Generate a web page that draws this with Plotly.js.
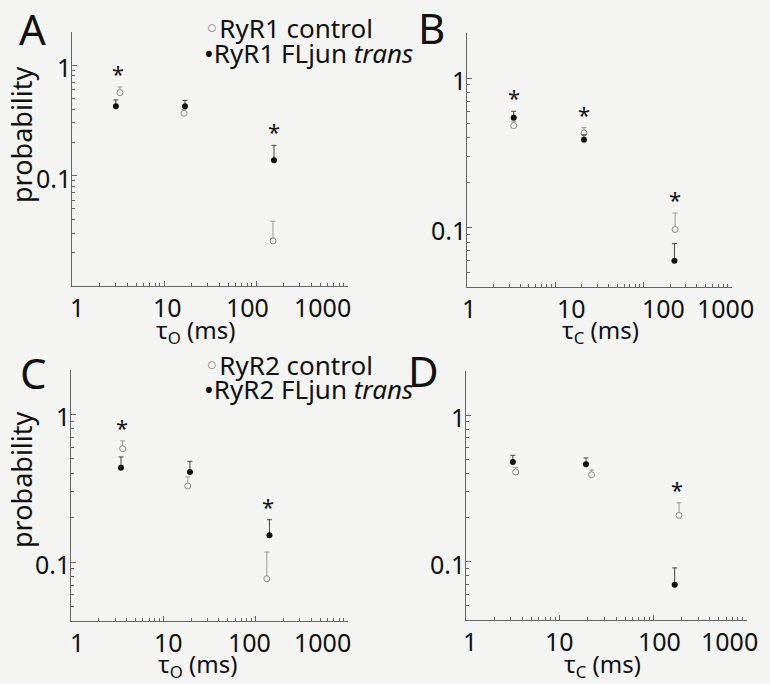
<!DOCTYPE html>
<html><head><meta charset="utf-8">
<script src="https://cdn.plot.ly/plotly-3.0.1.min.js"></script>
<style>html,body{margin:0;padding:0;background:#f4f4f2}#chart{width:770px;height:684px}</style>
</head><body><div id="chart"></div>
<script>
// ---------- data ----------
const xTickVals = [1, 10, 100, 1000];
const xTickText = ['1', '10', '100', '1000'];
const yTickVals = [0.1, 1];
const yTickText = ['0.1', '1'];

// A: RyR1, open-time constants
const aCtrlX = [3.32, 16.5, 153];
const aCtrlY = [0.565, 0.367, 0.0256];
const aCtrlErr = [0.07, 0.03, 0.013];
const aTransX = [3.0, 16.9, 157];
const aTransY = [0.425, 0.425, 0.138];
const aTransErr = [0.06, 0.055, 0.05];
const aSig = [true, false, true];

// B: RyR1, closed-time constants
const bCtrlX = [3.38, 21.1, 227];
const bCtrlY = [0.48, 0.429, 0.097];
const bCtrlErr = [0.03, 0.037, 0.028];
const bTransX = [3.38, 21.1, 223];
const bTransY = [0.543, 0.387, 0.060];
const bTransErr = [0.056, 0.03, 0.018];
const bSig = [true, true, true];

// C: RyR2, open-time constants
const cCtrlX = [3.63, 18.4, 132];
const cCtrlY = [0.587, 0.328, 0.0773];
const cCtrlErr = [0.075, 0.05, 0.04];
const cTransX = [3.48, 19.4, 141];
const cTransY = [0.436, 0.408, 0.152];
const cTransErr = [0.08, 0.074, 0.042];
const cSig = [true, false, true];

// D: RyR2, closed-time constants
const dCtrlX = [3.39, 21.9, 188];
const dCtrlY = [0.409, 0.392, 0.207];
const dCtrlErr = [0.03, 0.03, 0.045];
const dTransX = [3.16, 19.1, 169];
const dTransY = [0.479, 0.462, 0.0697];
const dTransErr = [0.053, 0.048, 0.021];
const dSig = [false, false, true];

const legendA = ['RyR1 control', 'RyR1 FLjun <i>trans</i>'];
const legendC = ['RyR2 control', 'RyR2 FLjun <i>trans</i>'];
const panelLetters = ['A', 'B', 'C', 'D'];
const xTitles = ['τ<sub>O</sub> (ms)', 'τ<sub>C</sub> (ms)', 'τ<sub>O</sub> (ms)', 'τ<sub>C</sub> (ms)'];
const yTitle = 'probability';

// ---------- styling ----------
const FONT = 'Noto Sans, Open Sans, DejaVu Sans, sans-serif';
const BG = '#f4f4f2';
const AX = '#666';
const CTRL = '#8a8a8a';
const TRANS = '#111';
// horizontal nudges of the x tick labels (px), as printed in the figure
const xLabelShift = [[5, 3, -9, -26], [2, 16, 20, -7], [6, 5, -6, -26], [4, 0, 6, -18]];
// panel frames in pixels: [left, right, top, bottom]
const frames = [[72, 348, 32, 286], [467, 732, 33, 287], [71, 348, 370, 621], [466, 747, 371, 620]];
const yLow = [0.01, 0.04, 0.04, 0.04];

function minorList(decades) {
  const out = [];
  decades.forEach(d => { for (let k = 2; k <= 9; k++) out.push(+(k * d).toPrecision(3)); });
  return out;
}

function xAxis(f, anchor) {
  return {
    type: 'log', domain: [f[0] / 770, f[1] / 770], anchor: anchor, range: [0, 3],
    tickmode: 'array', tickvals: xTickVals, ticktext: xTickText, showticklabels: false,
    ticks: 'inside', ticklen: 5, tickwidth: 1, tickcolor: AX,
    showline: true, linecolor: AX, linewidth: 1, showgrid: false, zeroline: false,
    minor: {tickmode: 'array', tickvals: minorList([1, 10, 100]), ticks: 'inside', ticklen: 3, tickcolor: AX, showgrid: false}
  };
}
function yAxis(f, anchor, lo) {
  const mins = minorList([0.01, 0.1]).filter(v => v >= lo - 1e-9);
  mins.push(2);
  return {
    type: 'log', domain: [1 - f[3] / 684, 1 - f[2] / 684], anchor: anchor, range: [Math.log10(lo), Math.log10(2)],
    tickmode: 'array', tickvals: yTickVals, ticktext: yTickText, showticklabels: false,
    ticks: 'inside', ticklen: 5, tickwidth: 1, tickcolor: AX,
    showline: true, linecolor: AX, linewidth: 1, showgrid: false, zeroline: false,
    minor: {tickmode: 'array', tickvals: mins, ticks: 'inside', ticklen: 3, tickcolor: AX, showgrid: false}
  };
}

function pair(xs, ys, errs, isCtrl, xa, ya, name) {
  return {
    type: 'scatter', mode: 'markers', x: xs, y: ys, xaxis: xa, yaxis: ya, name: name,
    showlegend: false, cliponaxis: false,
    marker: isCtrl ? {symbol: 'circle', size: 6, color: BG, line: {color: CTRL, width: 1}}
                   : {symbol: 'circle', size: 6, color: TRANS, line: {color: TRANS, width: 0}},
    error_y: {type: 'data', symmetric: false, array: errs, arrayminus: errs.map(() => 0),
              color: isCtrl ? '#999' : '#444', thickness: 1, width: 2.5}
  };
}

const panels = [
  {cx: aCtrlX, cy: aCtrlY, ce: aCtrlErr, tx: aTransX, ty: aTransY, te: aTransErr, sig: aSig, xa: 'x', ya: 'y'},
  {cx: bCtrlX, cy: bCtrlY, ce: bCtrlErr, tx: bTransX, ty: bTransY, te: bTransErr, sig: bSig, xa: 'x2', ya: 'y2'},
  {cx: cCtrlX, cy: cCtrlY, ce: cCtrlErr, tx: cTransX, ty: cTransY, te: cTransErr, sig: cSig, xa: 'x3', ya: 'y3'},
  {cx: dCtrlX, cy: dCtrlY, ce: dCtrlErr, tx: dTransX, ty: dTransY, te: dTransErr, sig: dSig, xa: 'x4', ya: 'y4'}
];

const traces = [];
const annotations = [];
panels.forEach((p, i) => {
  const f = frames[i];
  traces.push(pair(p.cx, p.cy, p.ce, true, p.xa, p.ya, i < 2 ? legendA[0] : legendC[0]));
  traces.push(pair(p.tx, p.ty, p.te, false, p.xa, p.ya, i < 2 ? legendA[1] : legendC[1]));
  p.sig.forEach((s, k) => {
    if (!s) return;
    annotations.push({
      xref: p.xa, yref: p.ya, x: Math.log10(Math.sqrt(p.cx[k] * p.tx[k])),
      y: Math.log10(Math.max(p.cy[k] + p.ce[k], p.ty[k] + p.te[k])),
      text: '*', showarrow: false, xanchor: 'center', yanchor: 'bottom', yshift: -3,
      font: {family: FONT, size: 22, color: '#111'}
    });
  });
  // x tick labels
  xTickVals.forEach((v, k) => annotations.push({
    xref: p.xa, yref: 'paper', x: Math.log10(v), y: 1 - f[3] / 684,
    text: xTickText[k], showarrow: false, xanchor: 'center', yanchor: 'middle',
    xshift: xLabelShift[i][k], yshift: -21,
    font: {family: FONT, size: 25, color: '#111'}
  }));
  // y tick labels
  yTickVals.forEach((v, k) => annotations.push({
    xref: 'paper', yref: p.ya, x: f[0] / 770, y: Math.log10(v),
    text: yTickText[k], showarrow: false, xanchor: 'right', yanchor: 'middle',
    xshift: 1, yshift: -2,
    font: {family: FONT, size: 25, color: '#111'}
  }));
});

// panel letters
const letterPos = [[32, 28], [431, 27], [33, 372], [424, 370]];
panelLetters.forEach((L, i) => annotations.push({
  xref: 'paper', yref: 'paper', x: letterPos[i][0] / 770, y: 1 - letterPos[i][1] / 684,
  text: L, showarrow: false, xanchor: 'center', yanchor: 'middle',
  font: {family: FONT, size: 42, color: '#111'}
}));
// x titles
const xTitlePos = [[196, 331], [600, 331], [198, 665], [602, 665]];
xTitles.forEach((t, i) => annotations.push({
  xref: 'paper', yref: 'paper', x: xTitlePos[i][0] / 770, y: 1 - xTitlePos[i][1] / 684,
  text: t, showarrow: false, xanchor: 'center', yanchor: 'middle',
  font: {family: FONT, size: 24, color: '#111'}
}));
// y titles
[[21, 135], [21, 480]].forEach(pos => annotations.push({
  xref: 'paper', yref: 'paper', x: pos[0] / 770, y: 1 - pos[1] / 684,
  text: yTitle, textangle: -90, showarrow: false, xanchor: 'center', yanchor: 'middle',
  font: {family: FONT, size: 27, color: '#111'}
}));
// legends (text with bullet glyphs, as in the figure)
const legPos = [[[202, 28], [202, 53]], [[202, 365], [202, 389]]];
[legendA, legendC].forEach((lg, j) => {
  annotations.push({
    xref: 'paper', yref: 'paper', x: legPos[j][0][0] / 770, y: 1 - legPos[j][0][1] / 684,
    text: '<span style="color:' + CTRL + '">◦</span>' + lg[0], showarrow: false,
    xanchor: 'left', yanchor: 'middle', font: {family: FONT, size: 26, color: '#111'}
  });
  annotations.push({
    xref: 'paper', yref: 'paper', x: legPos[j][1][0] / 770, y: 1 - legPos[j][1][1] / 684,
    text: '•' + lg[1], showarrow: false,
    xanchor: 'left', yanchor: 'middle', font: {family: FONT, size: 26, color: '#111'}
  });
});

const layout = {
  width: 770, height: 684, margin: {l: 0, r: 0, t: 0, b: 0},
  paper_bgcolor: BG, plot_bgcolor: BG, showlegend: false,
  xaxis: xAxis(frames[0], 'y'),
  yaxis: yAxis(frames[0], 'x', yLow[0]),
  xaxis2: xAxis(frames[1], 'y2'),
  yaxis2: yAxis(frames[1], 'x2', yLow[1]),
  xaxis3: xAxis(frames[2], 'y3'),
  yaxis3: yAxis(frames[2], 'x3', yLow[2]),
  xaxis4: xAxis(frames[3], 'y4'),
  yaxis4: yAxis(frames[3], 'x4', yLow[3]),
  annotations: annotations
};

Plotly.newPlot('chart', traces, layout, {displayModeBar: false, staticPlot: true});
</script></body></html>
